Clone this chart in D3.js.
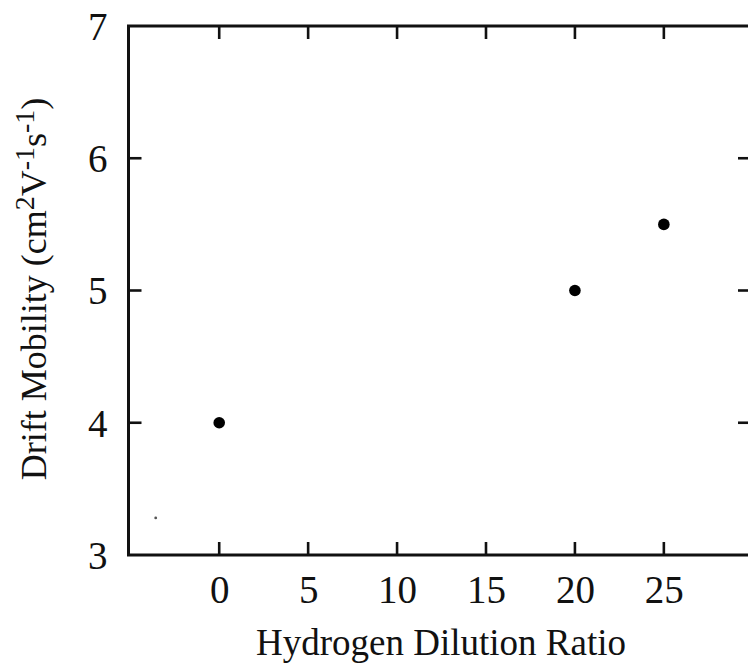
<!DOCTYPE html>
<html>
<head>
<meta charset="utf-8">
<script src="https://cdn.jsdelivr.net/npm/d3@7"></script>
<style>
  html, body { margin: 0; padding: 0; background: #fff; }
  svg { display: block; }
  text { font-family: "Liberation Serif", "DejaVu Serif", serif; fill: #111; }
</style>
</head>
<body>
<svg id="chart" width="748" height="672"></svg>
<script>
// Hydrogen dilution ratio vs. drift mobility
const dilution = [0, 20, 25];
const mobility = [4.0, 5.0, 5.5];
const speckX = [-3.57];
const speckY = [3.28];
const xTicks = [0, 5, 10, 15, 20, 25];
const yTicks = [3, 4, 5, 6, 7];

const svg = d3.select("#chart");
const x = d3.scaleLinear().domain([-5.1, 29.9]).range([128.5, 751]);
const y = d3.scaleLinear().domain([3, 7]).range([555, 26]);
const [x0, x1] = x.range();
const [y0, y1] = y.range();
const tickLen = 13;
const ink = "#111";

// plot frame
svg.append("rect")
  .attr("x", x0).attr("y", y1)
  .attr("width", x1 - x0).attr("height", y0 - y1)
  .attr("fill", "none").attr("stroke", ink).attr("stroke-width", 3);

// inward ticks on all four sides
const frameTicks = svg.append("g").attr("stroke", ink).attr("stroke-width", 2.6);
xTicks.forEach(t => {
  frameTicks.append("line").attr("x1", x(t)).attr("x2", x(t)).attr("y1", y0).attr("y2", y0 - tickLen);
  frameTicks.append("line").attr("x1", x(t)).attr("x2", x(t)).attr("y1", y1).attr("y2", y1 + tickLen);
});
yTicks.slice(1, -1).forEach(t => {
  frameTicks.append("line").attr("x1", x0).attr("x2", x0 + tickLen).attr("y1", y(t)).attr("y2", y(t));
  frameTicks.append("line").attr("x1", x1).attr("x2", x1 - tickLen).attr("y1", y(t)).attr("y2", y(t));
});

// tick labels via d3 axes (domain line and tick lines hidden)
const xAxis = svg.append("g")
  .attr("transform", `translate(0,${y0})`)
  .call(d3.axisBottom(x).tickValues(xTicks).tickFormat(d3.format("d")).tickSize(0).tickPadding(22));
const yAxis = svg.append("g")
  .attr("transform", `translate(${x0},0)`)
  .call(d3.axisLeft(y).tickValues(yTicks).tickFormat(d3.format("d")).tickSize(0).tickPadding(21));
[xAxis, yAxis].forEach(g => {
  g.select(".domain").remove();
  g.selectAll("text").attr("font-size", 39).attr("fill", ink)
    .style("font-family", '"Liberation Serif", serif');
});
xAxis.selectAll("text").attr("dy", "0.66em");
yAxis.selectAll("text").attr("dy", "0.34em");

// axis titles
svg.append("text")
  .attr("x", 441).attr("y", 655)
  .attr("text-anchor", "middle")
  .attr("font-size", 37)
  .text("Hydrogen Dilution Ratio");

const yTitle = svg.append("text")
  .attr("transform", "translate(46,289) rotate(-90)")
  .attr("text-anchor", "middle")
  .attr("font-size", 36);
yTitle.append("tspan").text("Drift Mobility (cm");
yTitle.append("tspan").attr("dy", -12).attr("font-size", 28).text("2");
yTitle.append("tspan").attr("dy", 12).text("V");
yTitle.append("tspan").attr("dy", -12).attr("font-size", 28).text("-1");
yTitle.append("tspan").attr("dy", 12).text("s");
yTitle.append("tspan").attr("dy", -12).attr("font-size", 28).text("-1");
yTitle.append("tspan").attr("dy", 12).text(")");

// data points
svg.append("g").selectAll("circle")
  .data(dilution.map((d, i) => [d, mobility[i]]))
  .join("circle")
  .attr("cx", d => x(d[0])).attr("cy", d => y(d[1]))
  .attr("r", 5.8).attr("fill", "#000");

// faint speck
svg.append("g").selectAll("circle")
  .data(speckX.map((d, i) => [d, speckY[i]]))
  .join("circle")
  .attr("cx", d => x(d[0])).attr("cy", d => y(d[1]))
  .attr("r", 1.4).attr("fill", "#555");
</script>
</body>
</html>
